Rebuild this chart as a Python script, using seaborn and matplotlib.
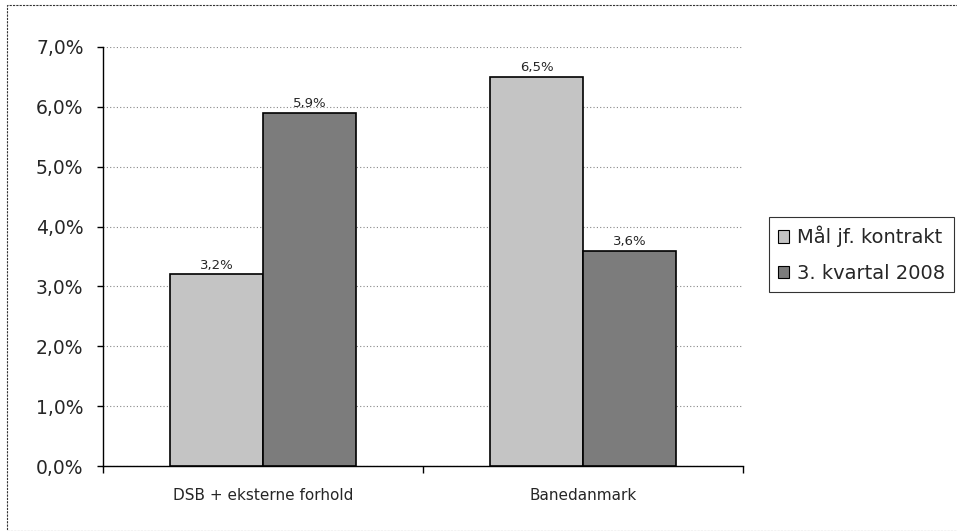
import matplotlib
matplotlib.use("Agg")
import matplotlib.pyplot as plt
import matplotlib.patches as mpatches
import pandas as pd
import seaborn as sns

# data
categories = ["DSB + eksterne forhold", "Banedanmark"]
series_names = ["Mål jf. kontrakt", "3. kvartal 2008"]
maal = [0.032, 0.065]
kvartal = [0.059, 0.036]
colors = ["#c4c4c4", "#7c7c7c"]

df = pd.DataFrame({
    "kategori": categories * 2,
    "serie": [series_names[0]] * 2 + [series_names[1]] * 2,
    "andel": maal + kvartal,
})

sns.set_theme(style="white")
plt.rcParams["font.family"] = ["DejaVu Sans"]

fig = plt.figure(figsize=(9.57, 5.31), dpi=100)
ax = fig.add_axes([103 / 957, 1 - 466 / 531, 640 / 957, 419 / 531])

sns.barplot(data=df, x="kategori", y="andel", hue="serie", order=categories,
            hue_order=series_names, palette=colors, width=0.58, saturation=1,
            edgecolor="black", linewidth=1.2, ax=ax, zorder=3)

# value labels
for cont in ax.containers:
    ax.bar_label(cont, labels=[f"{v*100:.1f}%".replace(".", ",") for v in cont.datavalues],
                 fontsize=9.5, padding=2)

ax.set_xlim(-0.5, 1.5)
ax.set_ylim(0, 0.07)
ax.set_yticks([i / 100 for i in range(8)])
ax.set_yticklabels([f"{i},0%" for i in range(8)], fontsize=13.5)
ax.tick_params(axis="y", length=4, width=1, color="black", direction="out", pad=10, left=True)
ax.tick_params(axis="x", which="major", length=0, labelsize=11, pad=16)
ax.set_xticks([-0.5, 0.5, 1.5], minor=True)
ax.tick_params(axis="x", which="minor", length=5, width=1, color="black", bottom=True)
ax.set_xlabel("")
ax.set_ylabel("")

ax.yaxis.grid(True, linestyle=(0, (1, 2)), color="#888888", linewidth=0.8, zorder=0)
ax.set_axisbelow(True)
for s in ["top", "right"]:
    ax.spines[s].set_visible(False)
for s in ["left", "bottom"]:
    ax.spines[s].set_color("black")
    ax.spines[s].set_linewidth(1)

handles = [mpatches.Patch(facecolor=c, edgecolor="black", linewidth=0.8) for c in colors]
ax.get_legend().remove()
leg = fig.legend(handles, series_names, loc="upper left",
                 bbox_to_anchor=(769 / 957, 1 - 217 / 531), bbox_transform=fig.transFigure,
                 frameon=True, fancybox=False, fontsize=14, handlelength=0.6,
                 handleheight=0.6, handletextpad=0.4, borderpad=0.45, labelspacing=0.85,
                 borderaxespad=0)
leg.get_frame().set_edgecolor("black")
leg.get_frame().set_linewidth(0.8)

# outer chart frame
fig.patches.append(mpatches.Rectangle((7 / 957, 0.0), 0.995, 1 - 5 / 531,
                                      transform=fig.transFigure, fill=False,
                                      edgecolor="#333333", linewidth=0.8,
                                      linestyle=(0, (2, 1))))

fig.savefig("out.png", dpi=100)
